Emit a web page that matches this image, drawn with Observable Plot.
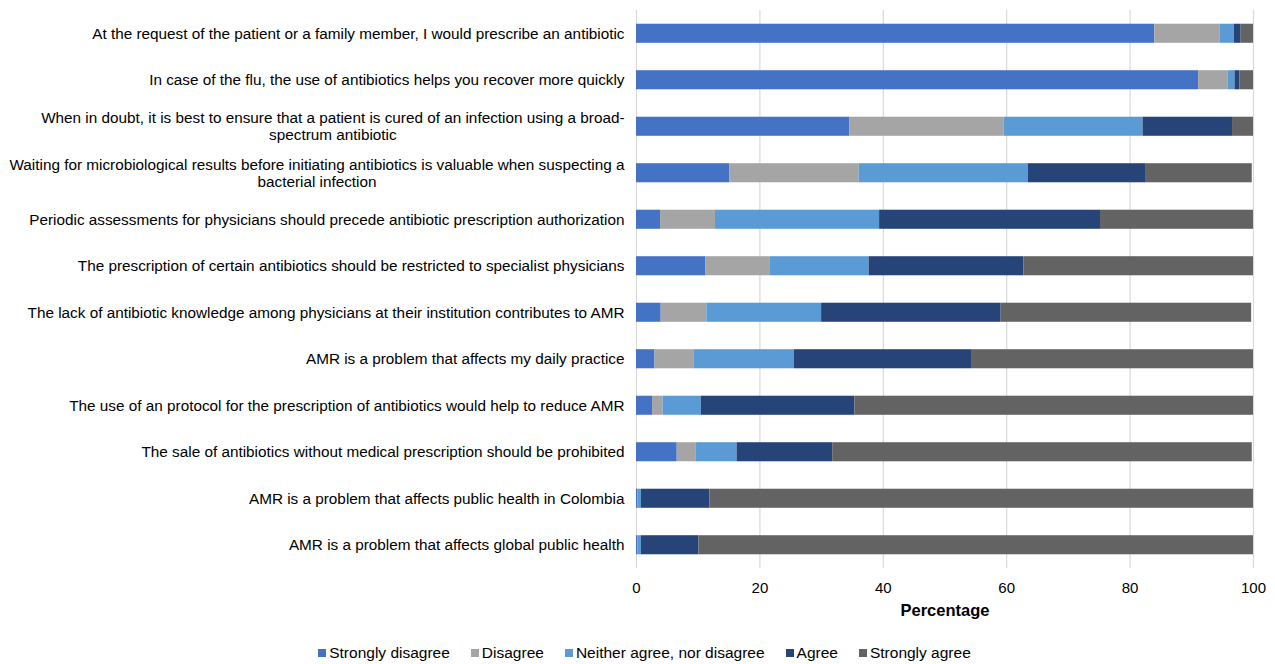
<!DOCTYPE html>
<html>
<head>
<meta charset="utf-8">
<script src="https://cdn.jsdelivr.net/npm/d3@7"></script>
<script src="https://cdn.jsdelivr.net/npm/@observablehq/plot@0.6"></script>
<style>
  body { margin: 0; background: #fff; font-family: "Liberation Sans", Arial, sans-serif; }
  #legend { display: flex; justify-content: center; gap: 21px; font-size: 15.5px; color: #000; margin-top: 14px; padding-left: 14px; }
  #legend span.item { display: inline-flex; align-items: center; }
  #legend i { display: inline-block; width: 8px; height: 8px; margin-right: 3px; }
</style>
</head>
<body>
<div id="chart"></div>
<div id="legend"></div>
<script>
const statements = [
  "At the request of the patient or a family member, I would prescribe an antibiotic",
  "In case of the flu, the use of antibiotics helps you recover more quickly",
  "When in doubt, it is best to ensure that a patient is cured of an infection using a broad-\nspectrum antibiotic",
  "Waiting for microbiological results before initiating antibiotics is valuable when suspecting a\nbacterial infection",
  "Periodic assessments for physicians should precede antibiotic prescription authorization",
  "The prescription of certain antibiotics should be restricted to specialist physicians",
  "The lack of antibiotic knowledge among physicians at their institution contributes to AMR",
  "AMR is a problem that affects my daily practice",
  "The use of an protocol for the prescription of antibiotics would help to reduce AMR",
  "The sale of antibiotics without medical prescription should be prohibited",
  "AMR is a problem that affects public health in Colombia",
  "AMR is a problem that affects global public health"
];
const responses = ["Strongly disagree", "Disagree", "Neither agree, nor disagree", "Agree", "Strongly agree"];
const colors = ["#4472C4", "#A5A5A5", "#5B9BD5", "#264478", "#636363"];

const stronglyDisagree = [84.0, 91.1, 34.6, 15.1, 3.9, 11.2, 4.0, 3.0, 2.6, 6.6, 0.2, 0.2];
const disagree         = [10.6,  4.8, 25.0, 21.0, 8.9, 10.5, 7.4, 6.3, 1.7, 3.1, 0.0, 0.0];
const neither          = [ 2.3,  1.1, 22.5, 27.4, 26.6, 16.0, 18.6, 16.3, 6.2, 6.6, 0.6, 0.6];
const agree            = [ 1.1,  0.8, 14.5, 19.0, 35.8, 25.1, 29.1, 28.7, 24.9, 15.5, 11.1, 9.3];
const stronglyAgree    = [ 2.0,  2.2,  3.4, 17.3, 24.8, 37.2, 40.6, 45.7, 64.6, 68.0, 88.1, 89.9];
const xTicks = [0, 20, 40, 60, 80, 100];

const series = [stronglyDisagree, disagree, neither, agree, stronglyAgree];
const rows = [];
statements.forEach((s, i) => {
  series.forEach((vals, k) => rows.push({statement: s, response: responses[k], value: vals[i]}));
});

const fs = 15.3;
const canvas = document.createElement("canvas");
const ctx = canvas.getContext("2d");
ctx.font = `${fs}px 'Liberation Sans'`;
const labels = statements.map(s => {
  const parts = s.split("\n");
  return {statement: s, line1: parts[0], line2: parts[1] || null, w1: ctx.measureText(parts[0]).width};
});
const single = labels.filter(d => !d.line2);
const double = labels.filter(d => d.line2);
const pad = 12;

const marks = [
  Plot.gridX(xTicks, {stroke: "#D9D9D9", strokeOpacity: 1, strokeWidth: 1.2}),
  Plot.barX(rows, Plot.stackX({
    x: "value", y: "statement", fill: "response", order: responses
  })),
  Plot.axisX(xTicks, {tickSize: 0, tickPadding: 14, fontSize: 15, label: null}),
  Plot.text(["Percentage"], {frameAnchor: "bottom", dy: 47, text: d => d, fontSize: 16.5, fontWeight: "bold", fill: "#000"}),
  Plot.text(single, {x: 0, y: "statement", text: "line1", textAnchor: "end", dx: -pad, fontSize: fs, fill: "#000"}),
  Plot.text(double, {x: 0, y: "statement", text: "line1", textAnchor: "end", dx: -pad, dy: -8.5, fontSize: fs, fill: "#000"}),
  ...double.map(d => Plot.text([d], {x: 0, y: "statement", text: "line2", textAnchor: "middle", dx: -pad - d.w1 / 2, dy: 8.5, fontSize: fs, fill: "#000"}))
];

const chart = Plot.plot({
  width: 1275,
  height: 630,
  marginLeft: 636,
  marginRight: 22,
  marginTop: 10,
  marginBottom: 62,
  style: {fontFamily: "'Liberation Sans', Arial, sans-serif", fontSize: "15px", color: "#000", background: "#fff"},
  x: {domain: [0, 100], ticks: xTicks},
  y: {domain: statements, paddingInner: 0.59, paddingOuter: 0.295, round: false, axis: null},
  color: {domain: responses, range: colors},
  marks
});
document.getElementById("chart").appendChild(chart);

const legend = document.getElementById("legend");
responses.forEach((r, k) => {
  const item = document.createElement("span");
  item.className = "item";
  item.innerHTML = `<i style="background:${colors[k]}"></i>${r}`;
  legend.appendChild(item);
});
</script>
</body>
</html>
